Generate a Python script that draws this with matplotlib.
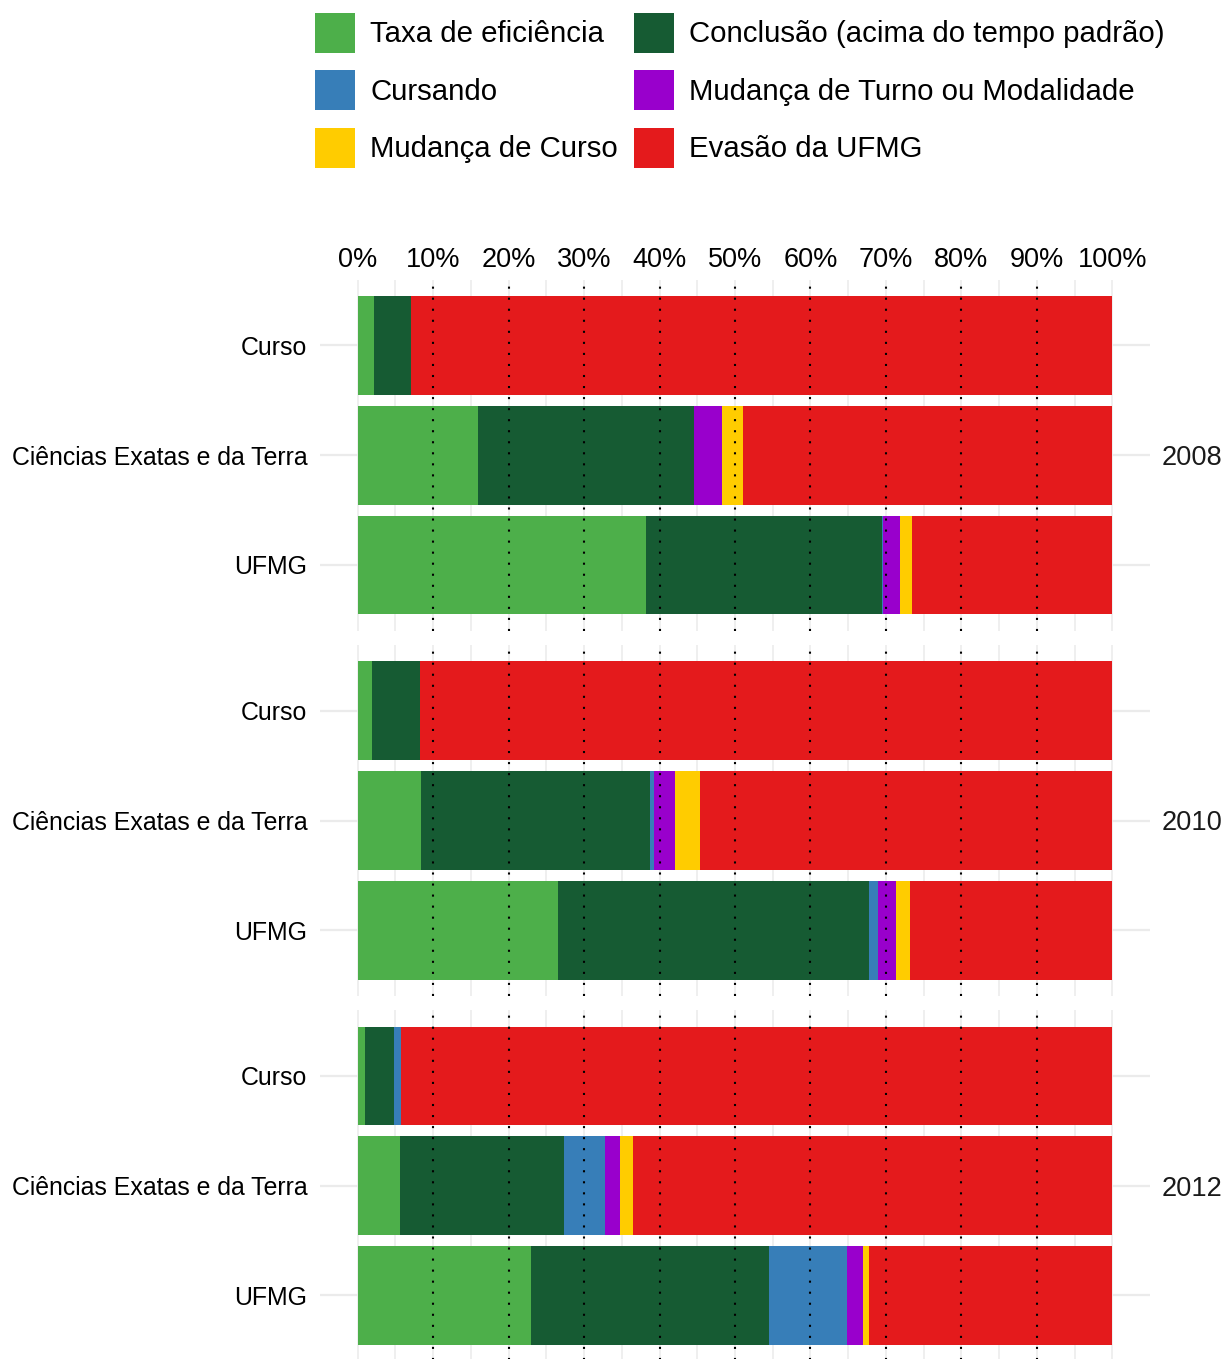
import numpy as np
import matplotlib
matplotlib.use("Agg")
import matplotlib.pyplot as plt
from matplotlib.patches import Patch

plt.rcParams['font.family'] = ['Liberation Sans', 'DejaVu Sans']

# dados (percentuais)
categorias = ["Curso", "Ciências Exatas e da Terra", "UFMG"]
anos = ["2008", "2010", "2012"]
series = ["Taxa de eficiência", "Conclusão (acima do tempo padrão)", "Cursando",
          "Mudança de Turno ou Modalidade", "Mudança de Curso", "Evasão da UFMG"]
cores = ["#4DAF4A", "#165B33", "#377EB8", "#9900CC", "#FFCC00", "#E41A1C"]

taxa = [[2.2, 15.9, 38.2], [1.9, 8.4, 26.6], [1.0, 5.6, 22.9]]
conclusao = [[4.85, 28.7, 31.25], [6.3, 30.35, 41.1], [3.8, 21.8, 31.6]]
cursando = [[0.0, 0.0, 0.1], [0.0, 0.55, 1.2], [1.0, 5.4, 10.4]]
mud_turno = [[0.0, 3.7, 2.3], [0.0, 2.8, 2.5], [0.0, 2.0, 2.0]]
mud_curso = [[0.0, 2.7, 1.6], [0.0, 3.3, 1.8], [0.0, 1.7, 0.8]]
evasao = [[92.95, 49.0, 26.55], [91.8, 54.6, 26.8], [94.2, 63.5, 32.3]]

W, H = 1226, 1359
fig = plt.figure(figsize=(W / 100, H / 100), dpi=100)

# posicao dos paineis em pixels
px_left, px_right = 320, 1150
unit = 109.75
painel_h = 3.2 * unit
topos = [279.65, 644.9, 1010.15]

ypos = np.array([3, 2, 1])
for i, ano in enumerate(anos):
    top = topos[i]
    ax = fig.add_axes([px_left / W, 1 - (top + painel_h) / H,
                       (px_right - px_left) / W, painel_h / H])
    left = np.zeros(3)
    valores = [taxa[i], conclusao[i], cursando[i], mud_turno[i], mud_curso[i], evasao[i]]
    for v, c in zip(valores, cores):
        v = np.array(v)
        ax.barh(ypos, v, left=left, height=0.9, color=c, linewidth=0, zorder=2)
        left = left + v

    for x in range(10, 100, 10):
        ax.axvline(x, color="black", linestyle=(0, (1, 4.3)), lw=1.5, zorder=3)

    ax.set_xlim(-5, 105)
    ax.set_ylim(0.4, 3.6)
    ax.set_xticks(range(0, 101, 10))
    ax.set_xticks(range(5, 100, 10), minor=True)
    ax.set_yticks(ypos)
    ax.set_yticklabels(categorias, fontsize=17.9, color="black")
    ax.grid(which="both", axis="x", color="#EBEBEB", lw=1.1, zorder=0)
    ax.grid(which="major", axis="y", color="#EBEBEB", lw=1.6, zorder=0)
    ax.tick_params(axis="both", which="both", length=0)
    ax.tick_params(axis="y", pad=9)
    for s in ax.spines.values():
        s.set_visible(False)
    ax.set_axisbelow(True)

    if i == 0:
        ax.xaxis.tick_top()
        ax.set_xticklabels([f"{x}%" for x in range(0, 101, 10)], fontsize=19.5)
        ax.tick_params(axis="x", pad=5)
    else:
        ax.set_xticklabels([])

    ax.annotate(ano, xy=(1, 0.5), xycoords="axes fraction", xytext=(8.6, 0),
                textcoords="offset points", ha="left", va="center_baseline",
                fontsize=19.6, color="#1A1A1A")

# legenda (ordem por coluna)
ordem = [0, 2, 4, 1, 3, 5]
handles = [Patch(facecolor=cores[k], edgecolor="none", label=series[k]) for k in ordem]
fig.legend(handles=handles, ncol=2, loc="upper left",
           bbox_to_anchor=(315 / W, 1 - 13 / H), frameon=False, fontsize=21.2,
           handlelength=1.37, handleheight=1.7, handletextpad=0.5,
           labelspacing=0.6, columnspacing=0.55, borderpad=0, borderaxespad=0)

fig.savefig("out.png", dpi=100)
